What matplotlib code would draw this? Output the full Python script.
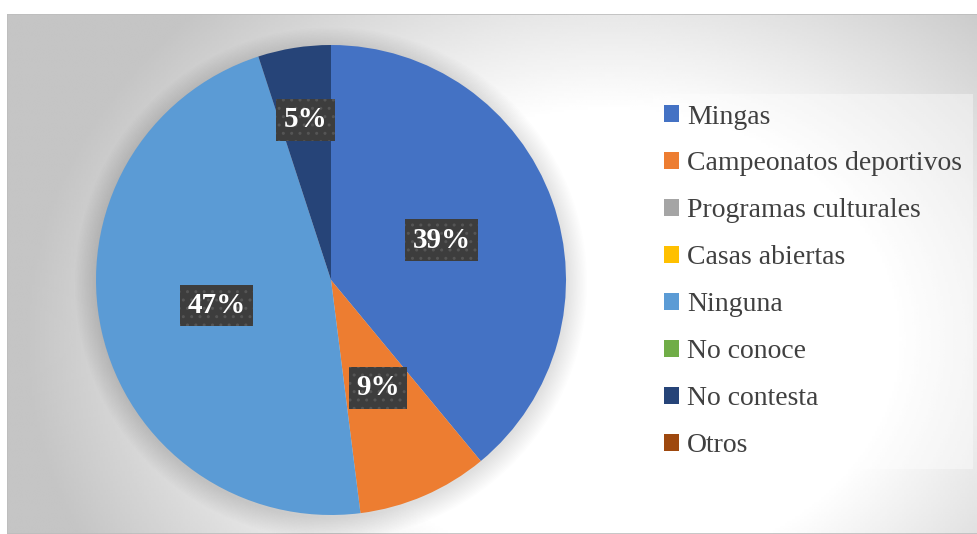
import matplotlib

matplotlib.use("Agg")
import matplotlib.pyplot as plt
import numpy as np
from matplotlib.patches import Circle, Rectangle

# data
categories = [
    "Mingas",
    "Campeonatos deportivos",
    "Programas culturales",
    "Casas abiertas",
    "Ninguna",
    "No conoce",
    "No contesta",
    "Otros",
]
shares = [39, 9, 0, 0, 47, 0, 5, 0]
colors = ["#4472C4", "#ED7D31", "#A5A5A5", "#FFC000", "#5B9BD5", "#70AD47", "#264478", "#9E480E"]

W, H = 978, 534
fig = plt.figure(figsize=(W / 100, H / 100), dpi=100)
fig.patch.set_facecolor("white")

# chart area with radial grey gradient
x0, y0, x1, y1 = 7, 0, 978, 520  # pixel box (y from bottom)
bg = fig.add_axes([x0 / W, y0 / H, (x1 - x0) / W, (y1 - y0) / H])
gx = np.linspace(x0, x1, 400)
gy = np.linspace(H - y1, H - y0, 220)  # from top
XX, YY = np.meshgrid(gx, gy)
d = np.sqrt(((XX - 610) / 1.25) ** 2 + (YY - 340) ** 2)
t = np.clip((d - 230) / (470 - 230), 0, 1)
shade = 1 - 0.23 * t
bg.imshow(shade, cmap="gray", vmin=0, vmax=1, aspect="auto", extent=[0, 1, 0, 1], origin="upper", interpolation="bilinear")
bg.set_xlim(0, 1)
bg.set_ylim(0, 1)
bg.axis("off")
bg.add_patch(Rectangle((0, 0), 1, 1, transform=bg.transAxes, fill=False, ec="#bdbdbd", lw=1.2))

# pie
cx, cy, r = 331, H - 280, 235
ax = fig.add_axes([(cx - r) / W, (cy - r) / H, 2 * r / W, 2 * r / H])
for i in range(16):
    ax.add_patch(Circle((0.0, -0.015), 1.0 + 0.006 * i, color="black", alpha=0.009, lw=0,
                        zorder=0, clip_on=False))
wedges, _ = ax.pie(shares, colors=colors, startangle=90, counterclock=False, radius=1.0,
                   wedgeprops=dict(linewidth=0))
ax.set_xlim(-1, 1)
ax.set_ylim(-1, 1)
ax.set_aspect("equal")
ax.axis("off")

label_dist = {0: 0.5, 1: 0.5, 4: 0.5, 6: 0.69}
for idx, w in enumerate(wedges):
    if shares[idx] == 0:
        continue
    mid = np.deg2rad((w.theta1 + w.theta2) / 2.0)
    rr = label_dist.get(idx, 0.5)
    ax.text(rr * np.cos(mid), rr * np.sin(mid), f"{shares[idx]}%",
            ha="center", va="center", fontsize=21, fontweight="bold", color="white",
            family="Liberation Serif", zorder=5,
            bbox=dict(boxstyle="square,pad=0.25", fc="#3d3d3d", ec="#555555", lw=0, hatch=".."))

# legend
handles = [Rectangle((0, 0), 1, 1, fc=c, ec="none") for c in colors]
leg = fig.legend(handles, categories, loc="upper left",
                 bbox_to_anchor=(653 / W, (H - 94) / H), borderaxespad=0,
                 frameon=True, fancybox=False, framealpha=0.4, facecolor="white", edgecolor="none",
                 prop=dict(family="Liberation Serif", size=20),
                 handlelength=0.55, handleheight=0.55, handletextpad=0.3, labelspacing=0.79,
                 borderpad=0.38)
for txt in leg.get_texts():
    txt.set_color("#404040")

fig.savefig("out.png", dpi=100)
